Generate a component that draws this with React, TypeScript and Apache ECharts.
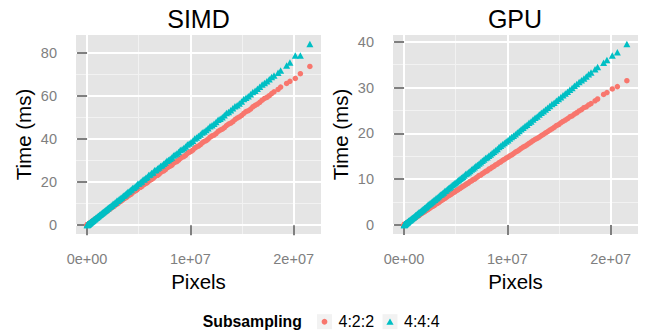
import React, { useEffect, useRef } from "react";
import * as echarts from "echarts";

// Image sizes in millions of pixels, first batch of test images
const pixelsMillions = [
  0.01, 0.03, 0.06, 0.1, 0.15, 0.2, 0.27, 0.34, 0.42, 0.5,
  0.6, 0.7, 0.81, 0.92, 1.04, 1.17, 1.3, 1.44, 1.59, 1.74,
  1.9, 2.07, 2.24, 2.42, 2.6, 2.79, 2.99, 3.19, 3.4, 3.62,
  3.84, 4.07, 4.3, 4.54, 4.79, 5.04, 5.3, 5.56, 5.83, 6.11,
  6.39, 6.68, 6.97, 7.27, 7.58, 7.89, 8.21, 8.53, 8.86, 9.2,
  9.54, 9.89, 10.24, 10.6, 10.97, 11.34, 11.72, 12.1, 12.49, 12.89,
  13.29, 13.7, 14.11, 14.53, 14.96, 15.39, 15.83, 16.27, 16.72, 17.18,
  17.64, 18.1, 18.49, 18.74, 19.32, 19.64, 20.16, 20.65, 21.57,
];
// Second batch of test images
const pixelsMillionsB = [
  0.02, 0.045, 0.08, 0.125, 0.175, 0.235, 0.305, 0.38, 0.46, 0.55,
  0.65, 0.755, 0.865, 0.98, 1.105, 1.235, 1.37, 1.515, 1.665, 1.82,
  1.985, 2.155, 2.33, 2.51, 2.695, 2.89, 3.09, 3.295, 3.51, 3.73,
  3.955, 4.185, 4.42, 4.665, 4.915, 5.17, 5.43, 5.695, 5.97, 6.25,
  6.535, 6.825, 7.12, 7.425, 7.735, 8.05, 8.37, 8.695, 9.03, 9.37,
  9.715, 10.065, 10.42, 10.785, 11.155, 11.53, 11.91, 12.295, 12.69, 13.09,
  13.495, 13.905, 14.32, 14.745, 15.175, 15.61, 16.05, 16.495, 16.95, 17.41,
  17.87,
];

// Time (ms), SIMD
const simd422 = [
  0.1, 0.2, 0.3, 0.4, 0.5, 0.7, 0.9, 1.2, 1.4, 1.8,
  2.0, 2.5, 2.7, 3.2, 3.5, 4.1, 4.4, 5.0, 5.4, 6.0,
  6.4, 7.2, 7.6, 8.4, 8.8, 9.6, 10.1, 11.0, 11.6, 12.5,
  13.0, 14.0, 14.6, 15.7, 16.3, 17.4, 18.0, 19.1, 19.8, 21.0,
  21.7, 23.0, 23.7, 25.0, 25.8, 27.1, 27.9, 29.3, 30.2, 31.6,
  32.5, 33.9, 34.9, 36.4, 37.4, 38.9, 40.0, 41.5, 42.6, 44.2,
  45.3, 47.0, 48.1, 49.8, 51.0, 52.8, 54.0, 55.7, 57.1, 58.9,
  60.2, 62.0, 63.1, 64.2, 65.9, 66.9, 68.2, 70.4, 73.8,
];
const simd422B = [
  0.1, 0.2, 0.3, 0.4, 0.6, 0.8, 1.1, 1.3, 1.5, 1.9,
  2.3, 2.6, 2.9, 3.4, 3.7, 4.3, 4.7, 5.1, 5.8, 6.2,
  6.9, 7.3, 8.0, 8.5, 9.3, 9.8, 10.7, 11.2, 12.1, 12.7,
  13.6, 14.2, 15.2, 15.9, 16.9, 17.6, 18.7, 19.4, 20.5, 21.3,
  22.5, 23.2, 24.5, 25.3, 26.6, 27.4, 28.8, 29.6, 31.0, 31.9,
  33.4, 34.3, 35.8, 36.8, 38.3, 39.3, 40.9, 41.9, 43.6, 44.6,
  46.3, 47.4, 49.1, 50.3, 52.0, 53.2, 55.0, 56.3, 58.1, 59.4,
  61.2,
];
const simd444 = [
  0.1, 0.2, 0.3, 0.4, 0.6, 0.8, 1.0, 1.3, 1.6, 1.9,
  2.3, 2.7, 3.1, 3.5, 4.0, 4.5, 5.0, 5.5, 6.1, 6.7,
  7.3, 8.0, 8.6, 9.3, 10.0, 10.7, 11.5, 12.3, 13.0, 13.9,
  14.8, 15.6, 16.6, 17.4, 18.4, 19.4, 20.3, 21.4, 22.4, 23.5,
  24.5, 25.7, 26.8, 27.9, 29.1, 30.3, 31.5, 32.8, 34.0, 35.3,
  36.6, 38.0, 39.3, 40.7, 42.2, 43.5, 45.0, 46.5, 48.0, 49.5,
  51.1, 52.6, 54.3, 55.8, 57.5, 59.2, 60.9, 62.5, 64.3, 66.1,
  67.8, 69.6, 70.8, 71.9, 74.2, 75.6, 78.9, 78.9, 84.2,
];
const simd444B = [
  0.1, 0.2, 0.3, 0.5, 0.7, 0.9, 1.2, 1.5, 1.8, 2.1,
  2.6, 2.9, 3.4, 3.8, 4.3, 4.8, 5.3, 5.9, 6.5, 7.0,
  7.7, 8.4, 9.0, 9.8, 10.4, 11.3, 11.9, 12.8, 13.7, 14.4,
  15.4, 16.2, 17.3, 18.0, 19.2, 20.0, 21.2, 22.0, 23.3, 24.2,
  25.5, 26.4, 27.5, 28.5, 29.9, 30.9, 32.4, 33.3, 34.9, 35.9,
  37.5, 38.6, 40.3, 41.4, 43.1, 44.2, 46.0, 47.2, 49.0, 50.2,
  52.1, 53.4, 55.3, 56.6, 58.6, 59.9, 61.9, 63.4, 65.4, 66.9,
  68.9,
];

// Time (ms), GPU
const gpu422 = [
  0.0, 0.1, 0.1, 0.2, 0.2, 0.3, 0.4, 0.5, 0.6, 0.7,
  0.9, 1.0, 1.2, 1.4, 1.5, 1.7, 1.9, 2.1, 2.4, 2.6,
  2.8, 3.1, 3.3, 3.6, 3.9, 4.1, 4.4, 4.7, 5.0, 5.4,
  5.7, 6.0, 6.4, 6.7, 7.1, 7.5, 7.8, 8.2, 8.6, 9.0,
  9.5, 9.9, 10.3, 10.8, 11.2, 11.7, 12.2, 12.6, 13.1, 13.6,
  14.1, 14.6, 15.1, 15.6, 16.1, 16.7, 17.2, 17.8, 18.4, 18.9,
  19.5, 20.1, 20.7, 21.3, 21.9, 22.6, 23.2, 23.8, 24.5, 25.2,
  25.8, 26.5, 27.1, 27.5, 28.5, 28.9, 29.7, 30.2, 31.5,
];
const gpu422B = [
  0.0, 0.1, 0.1, 0.2, 0.3, 0.3, 0.4, 0.6, 0.7, 0.8,
  1.0, 1.1, 1.3, 1.4, 1.6, 1.8, 2.0, 2.2, 2.5, 2.7,
  2.9, 3.2, 3.4, 3.7, 4.0, 4.2, 4.6, 4.8, 5.2, 5.5,
  5.8, 6.2, 6.5, 6.9, 7.2, 7.6, 8.0, 8.4, 8.8, 9.2,
  9.6, 10.0, 10.5, 10.9, 11.4, 11.8, 12.3, 12.8, 13.3, 13.8,
  14.3, 14.8, 15.3, 15.9, 16.4, 17.0, 17.5, 18.1, 18.7, 19.2,
  19.8, 20.4, 21.0, 21.7, 22.3, 22.9, 23.6, 24.2, 24.9, 25.6,
  26.2,
];
const gpu444 = [
  0.0, 0.1, 0.1, 0.2, 0.3, 0.4, 0.5, 0.6, 0.8, 0.9,
  1.1, 1.3, 1.5, 1.7, 1.9, 2.2, 2.4, 2.7, 2.9, 3.2,
  3.5, 3.8, 4.2, 4.5, 4.8, 5.2, 5.5, 5.9, 6.3, 6.7,
  7.1, 7.5, 8.0, 8.4, 8.9, 9.3, 9.8, 10.3, 10.8, 11.3,
  11.8, 12.3, 12.9, 13.4, 14.0, 14.6, 15.1, 15.7, 16.3, 17.0,
  17.6, 18.2, 18.9, 19.5, 20.2, 20.9, 21.6, 22.3, 23.0, 23.7,
  24.5, 25.2, 26.0, 26.7, 27.5, 28.3, 29.1, 29.9, 30.8, 31.6,
  32.4, 33.3, 34.0, 34.5, 35.4, 36.0, 37.0, 37.7, 39.5,
];
const gpu444B = [
  0.0, 0.1, 0.2, 0.2, 0.3, 0.4, 0.6, 0.7, 0.9, 1.0,
  1.2, 1.4, 1.6, 1.8, 2.1, 2.3, 2.6, 2.8, 3.1, 3.4,
  3.7, 4.0, 4.4, 4.7, 5.0, 5.4, 5.8, 6.1, 6.6, 6.9,
  7.4, 7.8, 8.2, 8.7, 9.1, 9.6, 10.1, 10.5, 11.1, 11.5,
  12.1, 12.6, 13.1, 13.7, 14.3, 14.8, 15.4, 16.0, 16.6, 17.3,
  17.9, 18.5, 19.2, 19.8, 20.5, 21.2, 21.9, 22.6, 23.4, 24.1,
  24.8, 25.6, 26.4, 27.1, 27.9, 28.7, 29.5, 30.4, 31.2, 32.0,
  32.9,
];

const xMajorTicks = [0, 1e7, 2e7];
const xMinorTicks = [5e6, 1.5e7];
const simdMajorTicks = [0, 20, 40, 60, 80];
const simdMinorTicks = [10, 30, 50, 70];
const gpuMajorTicks = [0, 10, 20, 30, 40];
const gpuMinorTicks = [5, 15, 25, 35];

const panelTitles = ["SIMD", "GPU"];
const xTitle = "Pixels";
const yTitle = "Time (ms)";
const legendTitle = "Subsampling";
const groupNames = ["4:2:2", "4:4:4"];

const COLORS = ["#F8766D", "#00BFC4"];
const FONT = "'Liberation Sans', Arial, Helvetica, sans-serif";
const GREY = "#7F7F7F";

function sci(v: number): string {
  if (v === 0) return "0e+00";
  const exp = Math.floor(Math.log10(Math.abs(v)));
  const mant = Math.round(v / Math.pow(10, exp));
  const sign = exp < 0 ? "-" : "+";
  const e = Math.abs(exp);
  return `${mant}e${sign}${e < 10 ? "0" + e : e}`;
}

function expanded(values: number[]): [number, number] {
  const lo = Math.min(...values);
  const hi = Math.max(...values);
  const pad = (hi - lo) * 0.05;
  return [lo - pad, hi + pad];
}

export default function App() {
  const ref = useRef<HTMLDivElement>(null);

  useEffect(() => {
    if (!ref.current) return;
    const chart = echarts.init(ref.current, null, { renderer: "svg" });

    const pixels = [...pixelsMillions, ...pixelsMillionsB].map((p) => p * 1e6);
    const seriesData = [
      [
        [...simd422, ...simd422B],
        [...simd444, ...simd444B],
      ],
      [
        [...gpu422, ...gpu422B],
        [...gpu444, ...gpu444B],
      ],
    ];
    const [xMin, xMax] = expanded(pixels);
    const [sMin, sMax] = expanded([...seriesData[0][0], ...seriesData[0][1]]);
    const [gMin, gMax] = expanded([...seriesData[1][0], ...seriesData[1][1]]);

    const gridLefts = [76, 393];
    const grids = gridLefts.map((left) => ({
      left,
      top: 35,
      width: 245,
      height: 199,
      show: true,
      backgroundColor: "#E5E5E5",
      borderWidth: 0,
    }));

    const xAxes: any[] = [];
    const yAxes: any[] = [];
    const yInfo = [
      { min: sMin, max: sMax, major: simdMajorTicks, minor: simdMinorTicks },
      { min: gMin, max: gMax, major: gpuMajorTicks, minor: gpuMinorTicks },
    ];

    for (let g = 0; g < 2; g++) {
      xAxes.push({
        type: "value",
        gridIndex: g,
        position: "top",
        min: xMin,
        max: xMax,
        z: 0,
        axisLine: { show: false },
        axisTick: { show: false, customValues: xMinorTicks },
        axisLabel: { show: false, customValues: xMinorTicks },
        splitLine: { show: true, lineStyle: { color: "#F2F2F2", width: 1 } },
      });
      xAxes.push({
        type: "value",
        gridIndex: g,
        position: "bottom",
        min: xMin,
        max: xMax,
        z: 1,
        axisLine: { show: false },
        axisTick: {
          show: true,
          customValues: xMajorTicks,
          length: 10,
          lineStyle: { color: GREY, width: 2 },
        },
        axisLabel: {
          customValues: xMajorTicks,
          formatter: (v: number) => sci(v),
          color: GREY,
          fontSize: 14.5,
          fontFamily: FONT,
          margin: 17,
        },
        splitLine: { show: true, lineStyle: { color: "#FFFFFF", width: 2 } },
        name: xTitle,
        nameLocation: "middle",
        nameGap: 37,
        nameTextStyle: { color: "#000", fontSize: 20.5, fontFamily: FONT },
      });
      const yi = yInfo[g];
      yAxes.push({
        type: "value",
        gridIndex: g,
        position: "right",
        min: yi.min,
        max: yi.max,
        z: 0,
        axisLine: { show: false },
        axisTick: { show: false, customValues: yi.minor },
        axisLabel: { show: false, customValues: yi.minor },
        splitLine: { show: true, lineStyle: { color: "#F2F2F2", width: 1 } },
      });
      yAxes.push({
        type: "value",
        gridIndex: g,
        position: "left",
        min: yi.min,
        max: yi.max,
        z: 1,
        axisLine: { show: false },
        axisTick: {
          show: true,
          customValues: yi.major,
          length: 10,
          lineStyle: { color: GREY, width: 2 },
        },
        axisLabel: {
          customValues: yi.major,
          color: GREY,
          fontSize: 14.5,
          fontFamily: FONT,
          margin: 19,
        },
        splitLine: { show: true, lineStyle: { color: "#FFFFFF", width: 2 } },
        name: yTitle,
        nameLocation: "middle",
        nameGap: 42,
        nameRotate: 90,
        nameTextStyle: { color: "#000", fontSize: 20.5, fontFamily: FONT },
      });
    }

    const series: any[] = [];
    for (let g = 0; g < 2; g++) {
      for (let k = 0; k < 2; k++) {
        series.push({
          type: "scatter",
          name: groupNames[k],
          xAxisIndex: g * 2 + 1,
          yAxisIndex: g * 2 + 1,
          symbol: k === 0 ? "circle" : "triangle",
          symbolSize: k === 0 ? 5.5 : [7, 6.5],
          itemStyle: { color: COLORS[k], opacity: 1 },
          data: pixels.map((p, i) => [p, seriesData[g][k][i]]),
          z: 2 + k,
        });
      }
    }

    const titleCenters = [198.5, 515];
    const graphic: any[] = [];
    panelTitles.forEach((t, i) => {
      graphic.push({
        type: "text",
        x: titleCenters[i],
        y: 19,
        style: {
          text: t,
          fill: "#000",
          fontSize: 25,
          fontFamily: FONT,
          align: "center",
          verticalAlign: "middle",
        },
      });
    });

    const legY = 321.7;
    graphic.push({
      type: "text",
      x: 202.7,
      y: legY,
      style: {
        text: legendTitle,
        fill: "#000",
        fontSize: 15.8,
        fontWeight: "bold",
        fontFamily: FONT,
        align: "left",
        verticalAlign: "middle",
      },
    });
    const keyLefts = [317, 382.5];
    keyLefts.forEach((kx, k) => {
      graphic.push({
        type: "rect",
        shape: { x: kx, y: legY - 7.5, width: 15, height: 15 },
        style: { fill: "#F2F2F2" },
      });
      const cx = kx + 7.5;
      if (k === 0) {
        graphic.push({
          type: "circle",
          shape: { cx, cy: legY, r: 2.9 },
          style: { fill: COLORS[0] },
        });
      } else {
        graphic.push({
          type: "polygon",
          shape: {
            points: [
              [cx - 3.6, legY + 3],
              [cx + 3.6, legY + 3],
              [cx, legY - 3.3],
            ],
          },
          style: { fill: COLORS[1] },
        });
      }
      graphic.push({
        type: "text",
        x: kx + 21.5,
        y: legY,
        style: {
          text: groupNames[k],
          fill: "#000",
          fontSize: 16,
          fontFamily: FONT,
          align: "left",
          verticalAlign: "middle",
        },
      });
    });

    chart.setOption({
      animation: false,
      backgroundColor: "#FFFFFF",
      grid: grids,
      xAxis: xAxes,
      yAxis: yAxes,
      series,
      graphic,
    });

    return () => chart.dispose();
  }, []);

  return (
    <div
      ref={ref}
      style={{ position: "absolute", left: 0, top: 0, width: 649, height: 335 }}
    />
  );
}
